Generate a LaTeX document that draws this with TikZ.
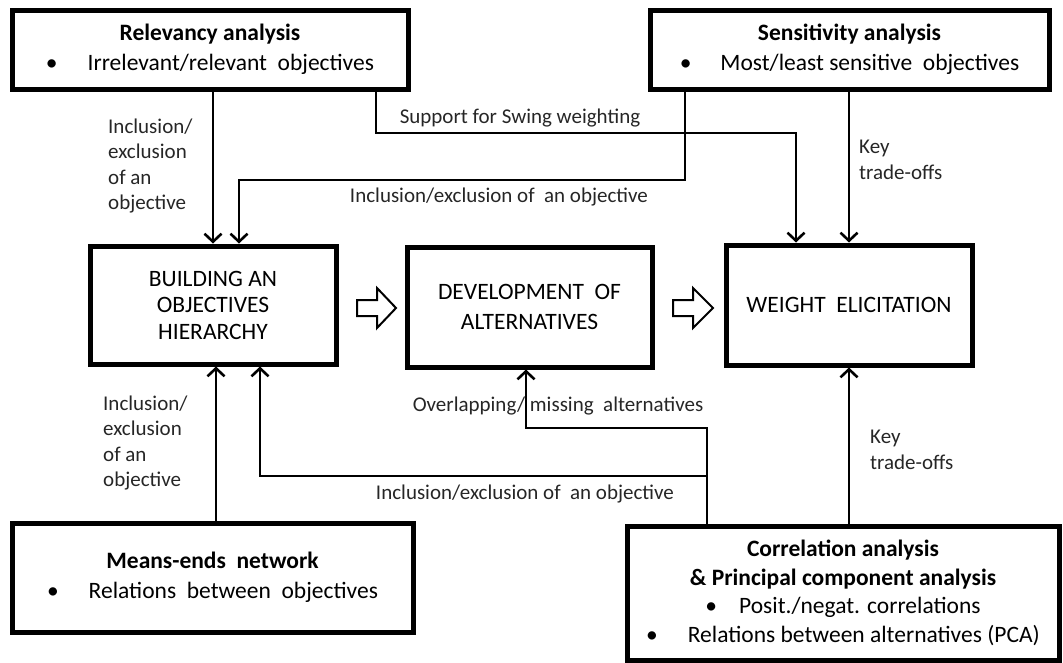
\documentclass[tikz,border=0pt]{standalone}
\usepackage{fontspec}
\setmainfont{Carlito}
\usetikzlibrary{arrows.meta}
\begin{document}
\begin{tikzpicture}[x=1pt,y=-1pt,
  box/.style={draw, line width=5pt, inner sep=0pt, align=center},
  boxfont/.style={font=\fontsize{23.5}{#1}\selectfont},
  conn/.style={line width=2.6pt, -{Straight Barb[length=8pt,width=17pt]}},
  lbl/.style={inner sep=0pt, font=\fontsize{21}{25.5}\selectfont, text=black!85},
  hollow/.style={draw, line width=2pt, fill=white, line join=miter}]
\useasboundingbox (0,0) rectangle (1063,662);

% analysis boxes
\node[box, boxfont=30, minimum width=396pt, minimum height=79pt] (rel) at (210,49.5)
  {\textbf{Relevancy analysis}\\ •\hspace{30pt}Irrelevant/relevant\ \ objectives};
\node[box, boxfont=30, minimum width=399pt, minimum height=79pt] (sen) at (849.5,49.5)
  {\textbf{Sensitivity analysis}\\ •\hspace{29pt}Most/least sensitive\ \ objectives};
\node[box, boxfont=30, minimum width=401pt, minimum height=109pt] (men) at (212.5,577.5)
  {\textbf{Means-ends\ \ network}\\ •\hspace{30pt}Relations\ \ between\ \ objectives};
\node[box, boxfont=28.7, minimum width=432pt, minimum height=134pt] (cor) at (843,593)
  {\textbf{Correlation analysis}\\ \textbf{\& Principal component analysis}\\
   •\hspace{22pt}Posit./negat. correlations\\
   •\hspace{30pt}Relations between alternatives (PCA)};

% main process boxes
\node[box, boxfont=26.5, minimum width=246pt, minimum height=118pt] (bld) at (213,305)
  {BUILDING AN\\ OBJECTIVES\\ HIERARCHY};
\node[box, boxfont=30, minimum width=245pt, minimum height=120pt] (dev) at (529.5,307)
  {DEVELOPMENT\ \ OF\\ ALTERNATIVES};
\node[box, boxfont=30, minimum width=246pt, minimum height=120pt] (wgt) at (849,305)
  {WEIGHT\ \ ELICITATION};

% hollow process arrows
\draw[hollow] (357,300) -- (377,300) -- (377,288) -- (396,308) -- (377,328) -- (377,316) -- (357,316) -- cycle;
\draw[hollow] (673,300) -- (693,300) -- (693,288) -- (713,308) -- (693,328) -- (693,316) -- (673,316) -- cycle;

% routing points
\coordinate (swA) at (376,133);
\coordinate (swB) at (796,133);
\coordinate (inA) at (685,180);
\coordinate (inB) at (239,180);
\coordinate (mA)  at (216,450);
\coordinate (cA)  at (707,476);
\coordinate (cB)  at (260,476);
\coordinate (cC)  at (707,428);
\coordinate (cD)  at (526,428);

% connectors
\draw[conn] (bld.north |- rel.south) -- (bld.north);
\draw[conn] (swA |- rel.south) -- (swA) -- (swB) -- (swB |- wgt.north);
\draw[conn] (inA |- sen.south) -- (inA) -- (inB) -- (inB |- bld.north);
\draw[conn] (wgt.north |- sen.south) -- (wgt.north);
\draw[conn] (mA |- men.north) -- (mA |- bld.south);
\draw[conn] (cA |- cor.north) -- (cA) -- (cB) -- (cB |- bld.south);
\draw[conn] (cA |- cor.north) -- (cC) -- (cD) -- (cD |- dev.south);
\draw[conn] (wgt.south |- cor.north) -- (wgt.south);

% connector labels
\node[lbl, anchor=west, align=left] (l1) at (108,166) {Inclusion/\\exclusion\\of an\\objective};
\node[lbl] (l2) at (520,118) {Support for Swing weighting};
\node[lbl] (l3) at (499,197) {Inclusion/exclusion of\ \ an objective};
\node[lbl, anchor=west, align=left] (l4) at (859,160) {Key\\trade-offs};
\node[lbl, anchor=west, align=left] (l5) at (103,443) {Inclusion/\\exclusion\\of an\\objective};
\node[lbl] (l6) at (558,406) {Overlapping/\ missing\ \ alternatives};
\node[lbl] (l7) at (525,494) {Inclusion/exclusion of\ \ an objective};
\node[lbl, anchor=west, align=left] (l8) at (870,450) {Key\\trade-offs};
\end{tikzpicture}
\end{document}
